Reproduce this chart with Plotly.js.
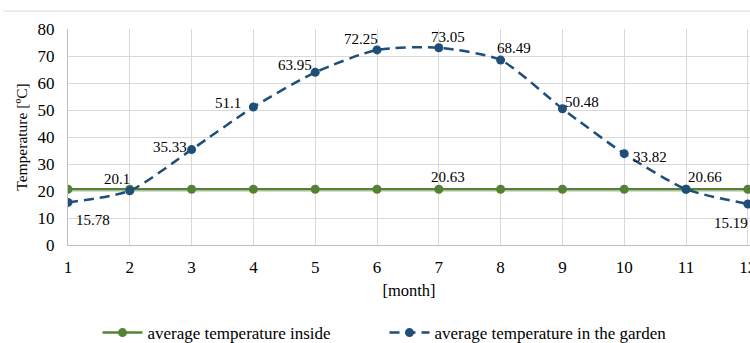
<!DOCTYPE html>
<html>
<head>
<meta charset="utf-8">
<script src="https://cdn.plot.ly/plotly-3.0.1.min.js"></script>
<style>
  html, body { margin: 0; padding: 0; background: #ffffff; }
  #chart { width: 750px; height: 343px; }
</style>
</head>
<body>
<div id="chart"></div>
<script>
// Monthly temperatures
const months = [1, 2, 3, 4, 5, 6, 7, 8, 9, 10, 11, 12];
const insideTemp = [20.63, 20.63, 20.63, 20.63, 20.63, 20.63, 20.63, 20.63, 20.63, 20.63, 20.63, 20.63];
const gardenTemp = [15.78, 20.1, 35.33, 51.1, 63.95, 72.25, 73.05, 68.49, 50.48, 33.82, 20.66, 15.19];
const yTicks = [0, 10, 20, 30, 40, 50, 60, 70, 80];

// Pixel nudges for the value labels of the garden series
const gardenLabelShift = [
  [25, -18], [-13, 12], [-22, 3], [-25, 4], [-20, 7], [-16, 11],
  [9, 11], [13, 12], [20, 7], [26, -3], [19, 12], [-17, -19]
];

const green = '#548235';
const blue = '#1f4e79';
const serif = 'Liberation Serif, Times New Roman, serif';

const traces = [
  {
    x: months, y: insideTemp, name: 'average temperature inside',
    type: 'scatter', mode: 'lines+markers',
    line: { color: green, width: 2.5 },
    marker: { color: green, size: 9 }
  },
  {
    x: months, y: gardenTemp, name: 'average temperature in the garden',
    type: 'scatter', mode: 'lines+markers',
    line: { color: blue, width: 2.5, dash: '10px,6px', shape: 'spline', smoothing: 0.65 },
    marker: { color: blue, size: 9 }
  }
];

const annotations = gardenTemp.map((v, i) => ({
  x: months[i], y: v, xref: 'x', yref: 'y',
  text: String(v), showarrow: false,
  xshift: gardenLabelShift[i][0], yshift: gardenLabelShift[i][1],
  font: { family: serif, size: 15, color: '#000000' }
}));
// single label on the inside series
annotations.push({
  x: months[6], y: insideTemp[6], xref: 'x', yref: 'y',
  text: String(insideTemp[6]), showarrow: false,
  xshift: 9, yshift: 12,
  font: { family: serif, size: 15, color: '#000000' }
});

const layout = {
  width: 750, height: 343,
  margin: { l: 68, r: 0, t: 29, b: 98 },
  paper_bgcolor: '#ffffff', plot_bgcolor: '#ffffff',
  font: { family: serif, size: 15, color: '#000000' },
  showlegend: true,
  legend: {
    orientation: 'h', xref: 'container', yref: 'container',
    x: 0.13, xanchor: 'left', y: 0.029, yanchor: 'middle',
    font: { family: serif, size: 17, color: '#000000' },
    itemwidth: 40, tracegroupgap: 0, entrywidth: 232
  },
  xaxis: {
    range: [1, 12.035], tickvals: months, ticktext: months.map(String),
    showgrid: true, gridcolor: '#d9d9d9', gridwidth: 1,
    showline: true, linecolor: '#bfbfbf', linewidth: 1,
    zeroline: false, ticks: '', ticklen: 0,
    ticklabeloverflow: 'allow', ticklabelstandoff: 7,
    tickfont: { family: serif, size: 17 },
    title: { text: '[month]', font: { family: serif, size: 16.5 }, standoff: 8 }
  },
  yaxis: {
    range: [0, 80], tickvals: yTicks,
    showgrid: true, gridcolor: '#d9d9d9', gridwidth: 1,
    showline: true, linecolor: '#bfbfbf', linewidth: 1,
    zeroline: false, ticks: '', ticklen: 0,
    ticklabelstandoff: 9,
    tickfont: { family: serif, size: 17 },
    title: { text: 'Temperature [ºC]', font: { family: serif, size: 15.5 }, standoff: 6 }
  },
  annotations: annotations,
  shapes: [{
    type: 'line', xref: 'paper', yref: 'paper',
    x0: -0.095, x1: 1, y0: 1.083, y1: 1.083,
    line: { color: '#d9d9d9', width: 1 }
  }]
};

Plotly.newPlot('chart', traces, layout, { displayModeBar: false, staticPlot: true });
</script>
</body>
</html>
